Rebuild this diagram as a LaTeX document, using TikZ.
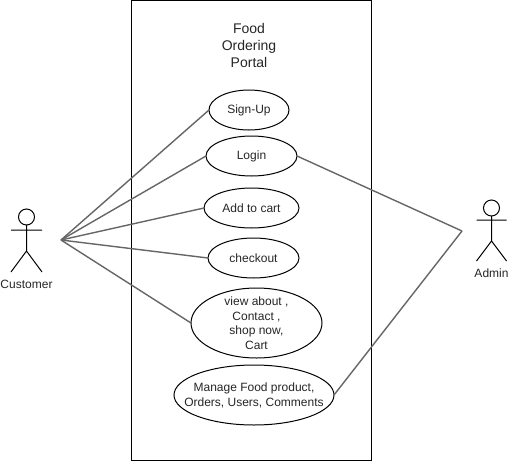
\documentclass[tikz,border=0pt]{standalone}
\usepackage{fontspec}
\setmainfont{Liberation Sans}
\usetikzlibrary{shapes.geometric}
\tikzset{
  x=1pt,y=-1pt,
  usecase/.style={ellipse,draw=black,fill=white,line width=1pt,inner sep=-20pt,outer sep=0pt,align=center,font=\fontsize{12}{15}\selectfont,text=black!85},
  link/.style={draw=black!60,line width=1.4pt},
  actorline/.style={draw=black,line width=1pt},
  caption/.style={font=\fontsize{12}{15}\selectfont,text=black!85,inner sep=0pt},
}
\begin{document}
\begin{tikzpicture}
\useasboundingbox (0,0) rectangle (509,461);
\fill[white] (0,0) rectangle (509,461);
\draw[black,line width=1pt] (131.5,0.5) rectangle (371.5,460);
\node[inner sep=0pt,align=center,font=\fontsize{14}{17}\selectfont,text=black!85] (title) at (249,45.5) {Food\\Ordering\\Portal};

\coordinate (hubC) at (61,240);
\coordinate (hubA) at (462,231);

\node[usecase,minimum width=80pt,minimum height=40pt] (signup) at (249,110) {Sign-Up};
\node[usecase,minimum width=91pt,minimum height=40pt] (login) at (251.5,156) {Login};
\node[usecase,minimum width=95pt,minimum height=40pt] (cart) at (251.5,208) {Add to cart};
\node[usecase,minimum width=91pt,minimum height=40pt] (checkout) at (253.5,258) {checkout};
\node[usecase,minimum width=131pt,minimum height=70pt,font=\fontsize{12}{14.5}\selectfont] (view) at (256.5,323) {view about ,\\Contact ,\\shop now,\\Cart};
\node[usecase,minimum width=160pt,minimum height=60pt] (manage) at (254,395) {Manage Food product,\\Orders, Users, Comments};

\draw[link] (hubC) -- (signup.west);
\draw[link] (hubC) -- (login.west);
\draw[link] (hubC) -- (cart.west);
\draw[link] (hubC) -- (checkout.west);
\draw[link] (hubC) -- (view.west);
\draw[link] (login.east) -- (hubA);
\draw[link] (manage.east) -- (hubA);

% Customer
\draw[actorline] (26.5,217) circle (8);
\draw[actorline] (26.5,225) -- (26.5,251) (11,230) -- (42,230) (11,272) -- (26.5,251) -- (42,272);
\node[caption] (customer) at (26.5,284.5) {Customer};
% Admin
\draw[actorline] (491.5,208) circle (8);
\draw[actorline] (491.5,216) -- (491.5,241) (476.5,220) -- (506.5,220) (476.5,261) -- (491.5,241) -- (506.5,261);
\node[caption] (admin) at (491.5,273.5) {Admin};
\end{tikzpicture}
\end{document}
